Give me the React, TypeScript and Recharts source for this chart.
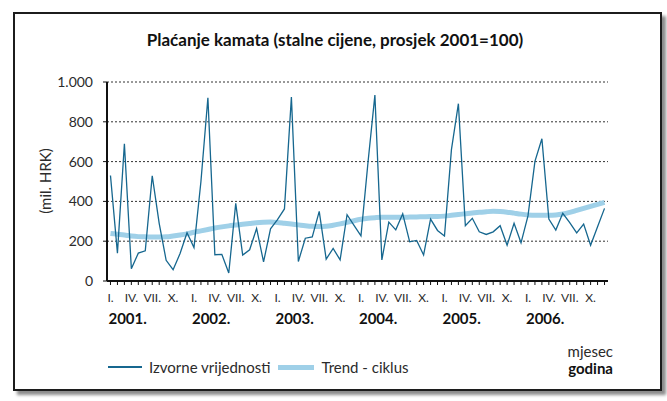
import { CartesianGrid, Line, LineChart, XAxis, YAxis } from "recharts";

const FONT = "Lato, 'Open Sans', sans-serif";
const INK = "#2b2b2b";
const RAW = "#16678f";
const TREND = "#9fd0e8";

const MONTHS = ["I.", "", "", "IV.", "", "", "VII.", "", "", "X.", "", ""];
const YEARS = ["2001.", "2002.", "2003.", "2004.", "2005.", "2006."];
const Y_TICKS = [0, 200, 400, 600, 800, 1000];

// izvorne vrijednosti, mjesečno
const RAW_2001 = [530, 140, 690, 62, 140, 152, 529, 290, 104, 57, 138, 242];
const RAW_2002 = [168, 500, 921, 132, 134, 40, 390, 130, 157, 264, 96, 262];
const RAW_2003 = [308, 362, 924, 98, 215, 222, 350, 110, 164, 106, 333, 280];
const RAW_2004 = [227, 593, 934, 106, 296, 257, 338, 197, 204, 131, 311, 254];
const RAW_2005 = [226, 660, 891, 278, 315, 247, 234, 247, 278, 180, 290, 192];
const RAW_2006 = [327, 601, 715, 311, 256, 340, 293, 242, 286, 180, 273, 365];

// trend - ciklus
const TREND_2001 = [239, 235, 231, 226, 223, 222, 221, 221, 222, 226, 231, 237];
const TREND_2002 = [245, 252, 259, 266, 272, 277, 281, 285, 289, 293, 295, 296];
const TREND_2003 = [294, 290, 286, 282, 278, 275, 274, 275, 280, 287, 295, 303];
const TREND_2004 = [310, 315, 318, 320, 320, 320, 320, 321, 322, 323, 324, 324];
const TREND_2005 = [326, 330, 334, 338, 342, 345, 348, 350, 349, 346, 341, 336];
const TREND_2006 = [332, 330, 330, 330, 332, 337, 345, 355, 365, 375, 385, 395];

const rawAll = [...RAW_2001, ...RAW_2002, ...RAW_2003, ...RAW_2004, ...RAW_2005, ...RAW_2006];
const trendAll = [...TREND_2001, ...TREND_2002, ...TREND_2003, ...TREND_2004, ...TREND_2005, ...TREND_2006];
const data = rawAll.map((v, i) => ({ i, izvorne: v, trend: trendAll[i] }));
const X_TICKS = data.map((d) => d.i);

function fmtY(v: number): string {
  return v >= 1000 ? v.toLocaleString("de-DE") : String(v);
}

function MonthTick({ x, y, payload }: any) {
  const i = payload.value as number;
  const m = i % 12;
  const label = MONTHS[m];
  return (
    <g>
      {label && (
        <text x={x} y={y + 17} textAnchor="middle" fontSize={12} fill={INK} fontFamily={FONT}>
          {label}
        </text>
      )}
      {m === 0 && (
        <text x={x - 2} y={y + 39} textAnchor="start" fontSize={15} fontWeight={700} fill="#111" fontFamily={FONT}>
          {YEARS[i / 12]}
        </text>
      )}
    </g>
  );
}

export default function App() {
  return (
    <div style={{ position: "absolute", left: 0, top: 0, width: 667, height: 401, background: "#fff", fontFamily: FONT }}>
      <div
        style={{
          position: "absolute",
          left: 13,
          top: 12,
          width: 649,
          height: 379,
          border: "2px solid #1c1c1c",
          boxSizing: "border-box",
          boxShadow: "4px 4px 3px #8c8c8c",
          background: "#fff",
        }}
      />
      <div style={{ position: "absolute", left: 0, width: 670, top: 29, textAlign: "center", fontSize: 17, fontWeight: 700, color: "#111" }}>
        Plaćanje kamata (stalne cijene, prosjek 2001=100)
      </div>
      <div
        style={{
          position: "absolute",
          left: 45,
          top: 181,
          transform: "translate(-50%, -50%) rotate(-90deg)",
          fontSize: 15,
          color: INK,
          whiteSpace: "nowrap",
        }}
      >
        (mil. HRK)
      </div>
      <div style={{ position: "absolute", left: 0, top: 0 }}>
        <LineChart width={667} height={401} data={data} margin={{ top: 82, right: 59, bottom: 70, left: 57 }}>
          <CartesianGrid vertical={false} stroke="#333" strokeDasharray="2 2" />
          <XAxis
            dataKey="i"
            type="number"
            domain={[-0.5, 71.5]}
            ticks={X_TICKS}
            interval={0}
            height={50}
            tickSize={4}
            tickMargin={0}
            tickLine={{ stroke: "#111" }}
            axisLine={{ stroke: "#111", strokeWidth: 2 }}
            tick={<MonthTick />}
          />
          <YAxis
            domain={[0, 1000]}
            ticks={Y_TICKS}
            width={50}
            tickSize={4}
            tickMargin={10}
            tickFormatter={fmtY}
            tickLine={{ stroke: "#111" }}
            axisLine={{ stroke: "#111", strokeWidth: 2 }}
            tick={{ fontSize: 14, fill: INK, fontFamily: FONT }}
          />
          <Line type="monotone" dataKey="trend" stroke={TREND} strokeWidth={5} dot={false} isAnimationActive={false} />
          <Line type="linear" dataKey="izvorne" stroke={RAW} strokeWidth={1.3} dot={false} isAnimationActive={false} />
        </LineChart>
      </div>
      <div style={{ position: "absolute", left: 108, top: 358, display: "flex", alignItems: "center", fontSize: 15, color: INK }}>
        <span style={{ display: "inline-block", width: 34, height: 2, background: RAW, marginRight: 7 }} />
        <span>Izvorne vrijednosti</span>
        <span style={{ display: "inline-block", width: 36, height: 5, background: TREND, marginLeft: 8, marginRight: 7 }} />
        <span>Trend - ciklus</span>
      </div>
      <div style={{ position: "absolute", left: 530, width: 83, top: 343, textAlign: "right", fontSize: 15, color: INK, lineHeight: "17px" }}>
        mjesec
        <br />
        <b style={{ color: "#111" }}>godina</b>
      </div>
    </div>
  );
}
